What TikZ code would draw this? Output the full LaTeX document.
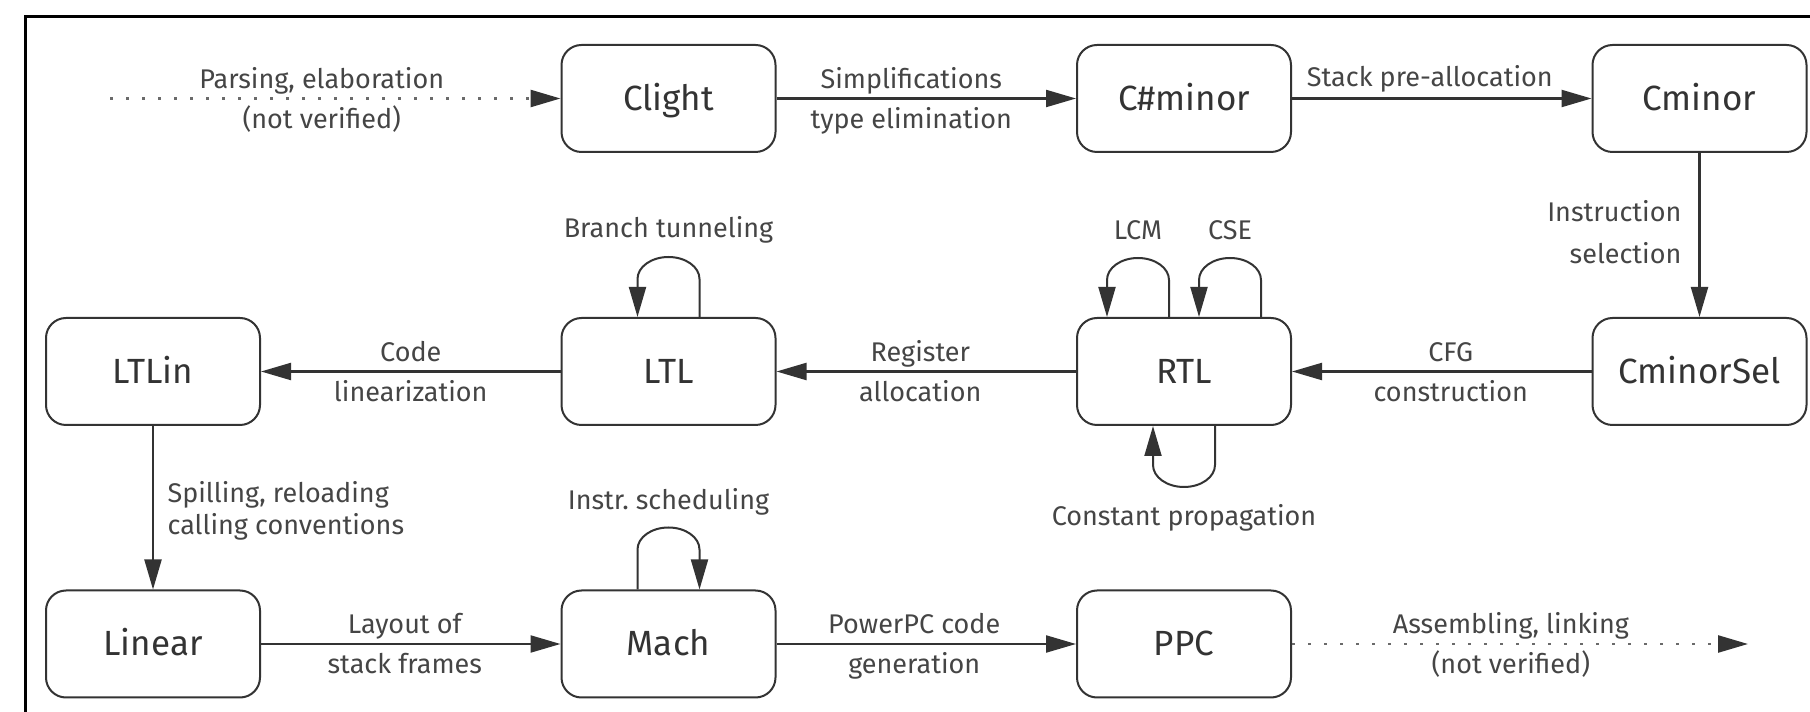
\documentclass[tikz,border=0pt]{standalone}
\usepackage{fontspec}
\setmainfont{Fira Sans}
\usetikzlibrary{arrows.meta}
\definecolor{ink}{HTML}{333333}
\definecolor{labelink}{HTML}{454545}
\definecolor{dotink}{HTML}{6A6A6A}
\begin{document}
\begin{tikzpicture}[x=1pt,y=1pt,
  stage/.style={draw=ink, line width=2pt, rounded corners=20pt,
    minimum width=214pt, minimum height=107pt, inner sep=0pt,
    font=\fontsize{35}{42}\selectfont, text=ink,
    text height=24pt, text depth=0pt},
  tip/.style={-{Triangle[length=30pt,width=17pt,color=ink]}},
  flow/.style={draw=ink, line width=2.2pt, tip},
  loopflow/.style={draw=ink, line width=2pt, tip},
  unverified/.style={draw=dotink, line width=2.5pt,
    dash pattern=on 2.5pt off 13.5pt, tip},
  lbl/.style={font=\fontsize{27}{32}\selectfont, text=labelink, inner sep=0pt},
  above lbl/.style={lbl, anchor=base, yshift=10pt},
  below lbl/.style={lbl, anchor=base, yshift=-30pt},
]
\useasboundingbox (0,0) rectangle (1810,712);

% outer frame (top and left edges)
\draw[line width=3pt, black, line join=miter] (25,-10) -- (25,695) -- (1825,695);

% compiler stages
\node[stage] (clight)      at (668.5,613.5) {Clight};
\node[stage] (csharpminor) at (1184,613.5)  {C\#minor};
\node[stage] (cminor)      at (1699.5,613.5){Cminor};
\node[stage] (ltlin)       at (153,340.5)   {LTLin};
\node[stage] (ltl)         at (668.5,340.5) {LTL};
\node[stage] (rtl)         at (1184,340.5)  {RTL};
\node[stage] (cminorsel)   at (1699.5,340.5){CminorSel};
\node[stage] (linear)      at (153,68)      {Linear};
\node[stage] (mach)        at (668.5,68)    {Mach};
\node[stage] (ppc)         at (1184,68)     {PPC};

% free ends of the unverified passes
\coordinate (source) at (110,613.5);
\coordinate (binary) at (1748,68);

% top row
\draw[unverified] (source) --
  node[above lbl,pos=.47] (parsingA) {Parsing, elaboration}
  node[below lbl,pos=.47] (parsingB) {(not verified)} (clight);
\draw[flow] (clight) --
  node[above lbl,pos=.45] (simplA) {Simplifications}
  node[below lbl,pos=.45] (simplB) {type elimination} (csharpminor);
\draw[flow] (csharpminor) --
  node[lbl,anchor=base,yshift=12pt,pos=.46] (stackA) {Stack pre-allocation} (cminor);

% right column down
\draw[flow] (cminor) --
  node[lbl,anchor=base east,xshift=-17pt,pos=.416] (iselA) {Instruction}
  node[lbl,anchor=base east,xshift=-17pt,pos=.675] (iselB) {selection} (cminorsel);

% middle row, right to left
\draw[flow] (cminorsel) --
  node[above lbl,pos=.47] (cfgA) {CFG}
  node[below lbl,pos=.47] (cfgB) {construction} (rtl);
\draw[flow] (rtl) --
  node[above lbl,pos=.52] (regA) {Register}
  node[below lbl,pos=.52] (regB) {allocation} (ltl);
\draw[flow] (ltl) --
  node[above lbl,pos=.5] (linA) {Code}
  node[below lbl,pos=.5] (linB) {linearization} (ltlin);

% left column down
\draw[flow] (ltlin) --
  node[lbl,anchor=base west,xshift=13.5pt,pos=.465] (spillA) {Spilling, reloading}
  node[lbl,anchor=base west,xshift=13.5pt,pos=.665] (spillB) {calling conventions} (linear);

% bottom row
\draw[flow] (linear) --
  node[above lbl,pos=.48] (layoutA) {Layout of}
  node[below lbl,pos=.48] (layoutB) {stack frames} (mach);
\draw[flow] (mach) --
  node[above lbl,pos=.46] (genA) {PowerPC code}
  node[below lbl,pos=.46] (genB) {generation} (ppc);
\draw[unverified] (ppc) --
  node[above lbl,pos=.48] (asmA) {Assembling, linking}
  node[below lbl,pos=.48] (asmB) {(not verified)} (binary);

% optimisation loops
\draw[loopflow] ([xshift=31pt]ltl.north) -- ++(0,38)
  arc[start angle=0,end angle=180,x radius=31pt,y radius=22pt]
  -- ([xshift=-31pt]ltl.north);
\node[lbl,anchor=base] (tunnel) at (668.5,474) {Branch tunneling};

\draw[loopflow] ([xshift=-15pt]rtl.north) -- ++(0,37)
  arc[start angle=0,end angle=180,x radius=31pt,y radius=22pt]
  -- ([xshift=-77pt]rtl.north);
\node[lbl,anchor=base] (lcm) at (1138,472) {LCM};

\draw[loopflow] ([xshift=77pt]rtl.north) -- ++(0,37)
  arc[start angle=0,end angle=180,x radius=31pt,y radius=22pt]
  -- ([xshift=15pt]rtl.north);
\node[lbl,anchor=base] (cse) at (1230,472) {CSE};

\draw[loopflow] ([xshift=31pt]rtl.south) -- ++(0,-39)
  arc[start angle=0,end angle=-180,x radius=31pt,y radius=22pt]
  -- ([xshift=-31pt]rtl.south);
\node[lbl,anchor=base] (constprop) at (1184,186) {Constant propagation};

\draw[loopflow] ([xshift=-31pt]mach.north) -- ++(0,40)
  arc[start angle=180,end angle=0,x radius=31pt,y radius=22pt]
  -- ([xshift=31pt]mach.north);
\node[lbl,anchor=base] (sched) at (668.5,202) {Instr.\ scheduling};
\end{tikzpicture}
\end{document}
